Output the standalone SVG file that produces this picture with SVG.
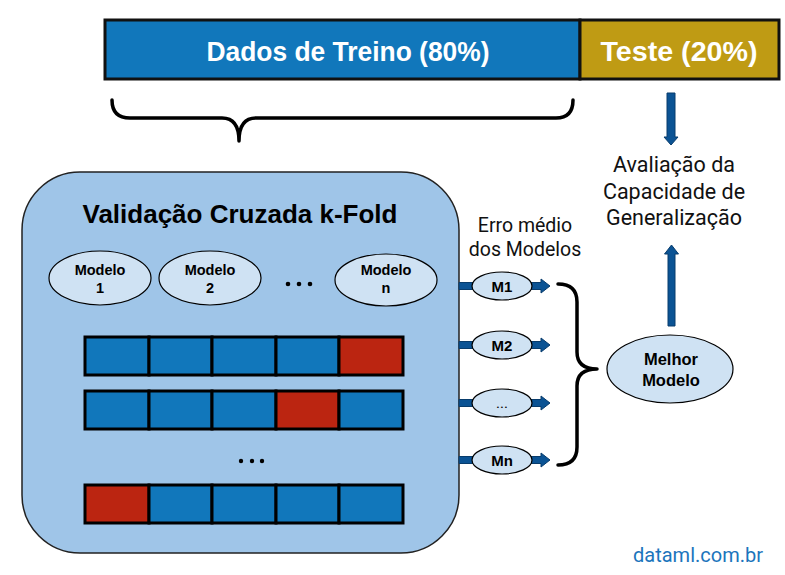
<svg xmlns="http://www.w3.org/2000/svg" width="785" height="575" viewBox="0 0 785 575">
<style>
.b{font-family:"Liberation Sans",Arial,sans-serif;font-weight:bold}
.r{font-family:Roboto,"Liberation Sans",sans-serif}
.cell{stroke:#000;stroke-width:3}
.blue{fill:#1177bb}
.red{fill:#bb2511}
.ell{fill:#cfe2f3;stroke:#000;stroke-width:1.2}
.arr{fill:#0b5394;stroke:#083c6c;stroke-width:1}
.brace{fill:none;stroke:#000;stroke-width:3.5;stroke-linecap:round;stroke-linejoin:round}
</style>
<rect width="785" height="575" fill="#fff"/>
<g id="dados-treino">
<rect x="105" y="20" width="475" height="59" fill="#1177bb" stroke="#111" stroke-width="3"/>
<text class="b" x="348" y="61" font-size="27" fill="#fff" text-anchor="middle" textLength="283" lengthAdjust="spacingAndGlyphs">Dados de Treino (80%)</text>
</g>
<g id="teste">
<rect x="580" y="20" width="199" height="59" fill="#bf9b14" stroke="#111" stroke-width="3"/>
<text class="b" x="679" y="61" font-size="27" fill="#fff" text-anchor="middle" textLength="157" lengthAdjust="spacingAndGlyphs">Teste (20%)</text>
</g>
<g id="avaliacao">
<text class="r" font-size="21.5" fill="#111" text-anchor="middle"><tspan x="674" y="172">Avaliação da</tspan><tspan x="674" y="198.5">Capacidade de</tspan><tspan x="674" y="225">Generalização</tspan></text>
</g>
<g id="kfold">
<rect x="22" y="172" width="437" height="381" rx="58" ry="58" fill="#9fc5e8" stroke="#222" stroke-width="1.5"/>
<text class="b" x="240" y="223" font-size="26" fill="#000" text-anchor="middle">Validação Cruzada k-Fold</text>
</g>
<g id="modelo1">
<ellipse class="ell" cx="100" cy="278" rx="51" ry="27"/>
<text class="b" font-size="14.5" text-anchor="middle"><tspan x="100" y="275">Modelo</tspan><tspan x="100" y="293">1</tspan></text>
</g>
<g id="modelo2">
<ellipse class="ell" cx="210" cy="278" rx="51" ry="27"/>
<text class="b" font-size="14.5" text-anchor="middle"><tspan x="210" y="275">Modelo</tspan><tspan x="210" y="293">2</tspan></text>
</g>
<g id="modelo-dots">
<circle cx="288" cy="284" r="2.3"/><circle cx="299" cy="284" r="2.3"/><circle cx="310" cy="284" r="2.3"/>
</g>
<g id="modelon">
<ellipse class="ell" cx="386" cy="280" rx="51" ry="26"/>
<text class="b" font-size="14.5" text-anchor="middle"><tspan x="386" y="275">Modelo</tspan><tspan x="386" y="293">n</tspan></text>
</g>
<g id="fold1">
<rect class="cell blue" x="85" y="337" width="64" height="38"/>
<rect class="cell blue" x="149" y="337" width="63" height="38"/>
<rect class="cell blue" x="212" y="337" width="64" height="38"/>
<rect class="cell blue" x="276" y="337" width="63" height="38"/>
<rect class="cell red" x="339" y="337" width="64" height="38"/>
</g>
<g id="fold2">
<rect class="cell blue" x="85" y="391" width="64" height="38"/>
<rect class="cell blue" x="149" y="391" width="63" height="38"/>
<rect class="cell blue" x="212" y="391" width="64" height="38"/>
<rect class="cell red" x="276" y="391" width="63" height="38"/>
<rect class="cell blue" x="339" y="391" width="64" height="38"/>
</g>
<g id="fold-dots">
<circle cx="241" cy="461" r="2.2"/><circle cx="252" cy="461" r="2.2"/><circle cx="262" cy="461" r="2.2"/>
</g>
<g id="foldk">
<rect class="cell red" x="85" y="485" width="64" height="38"/>
<rect class="cell blue" x="149" y="485" width="63" height="38"/>
<rect class="cell blue" x="212" y="485" width="64" height="38"/>
<rect class="cell blue" x="276" y="485" width="63" height="38"/>
<rect class="cell blue" x="339" y="485" width="64" height="38"/>
</g>
<g id="erro-medio">
<text class="r" font-size="19.5" fill="#111" text-anchor="middle"><tspan x="525" y="232">Erro médio</tspan><tspan x="525" y="256">dos Modelos</tspan></text>
</g>
<g id="connectors">
<path class="brace" d="M112,100 Q112,118 130,118 L222,118 Q239,118 239,141 Q239,118 256,118 L556,118 Q573,118 573,100"/>
<path class="arr" d="M667,93 H675 V137 H678 L671,145 L664,137 H667 Z"/>
<path class="arr" d="M668,326 V254 H664.5 L671.5,245 L678.5,254 H675 V326 Z"/>
<path class="brace" d="M558,284 Q577,284 577,302 L577,352 Q577,369 597,369 Q577,369 577,386 L577,447 Q577,465 558,465"/>
<g id="arrows-m">
<path class="arr" d="M459,282.5 H473 V289.5 H459 Z M531,282.5 H541 V279 L550,286 L541,293 V289.5 H531 Z"/>
<path class="arr" d="M459,341.5 H473 V348.5 H459 Z M531,341.5 H541 V338 L550,345 L541,352 V348.5 H531 Z"/>
<path class="arr" d="M459,399.5 H473 V406.5 H459 Z M531,399.5 H541 V396 L550,403 L541,410 V406.5 H531 Z"/>
<path class="arr" d="M459,456.5 H473 V463.5 H459 Z M531,456.5 H541 V453 L550,460 L541,467 V463.5 H531 Z"/>
</g>
</g>
<g id="m1">
<ellipse class="ell" cx="502" cy="286" rx="30" ry="14"/>
<text class="b" x="502" y="291.5" font-size="15" text-anchor="middle">M1</text>
</g>
<g id="m2">
<ellipse class="ell" cx="502" cy="345" rx="30" ry="14"/>
<text class="b" x="502" y="350.5" font-size="15" text-anchor="middle">M2</text>
</g>
<g id="m-dots">
<ellipse class="ell" cx="502" cy="403" rx="30" ry="14"/>
<text class="r" x="502" y="408" font-size="15" text-anchor="middle">...</text>
</g>
<g id="mn">
<ellipse class="ell" cx="502" cy="460" rx="30" ry="14"/>
<text class="b" x="502" y="465.5" font-size="15" text-anchor="middle">Mn</text>
</g>
<g id="melhor-modelo">
<ellipse class="ell" cx="670" cy="369" rx="63" ry="34"/>
<text class="b" font-size="16.5" text-anchor="middle"><tspan x="671" y="365">Melhor</tspan><tspan x="671" y="386">Modelo</tspan></text>
</g>
<g id="site">
<text class="r" x="698" y="562" font-size="20" fill="#1c75bc" text-anchor="middle">dataml.com.br</text>
</g>
</svg>
